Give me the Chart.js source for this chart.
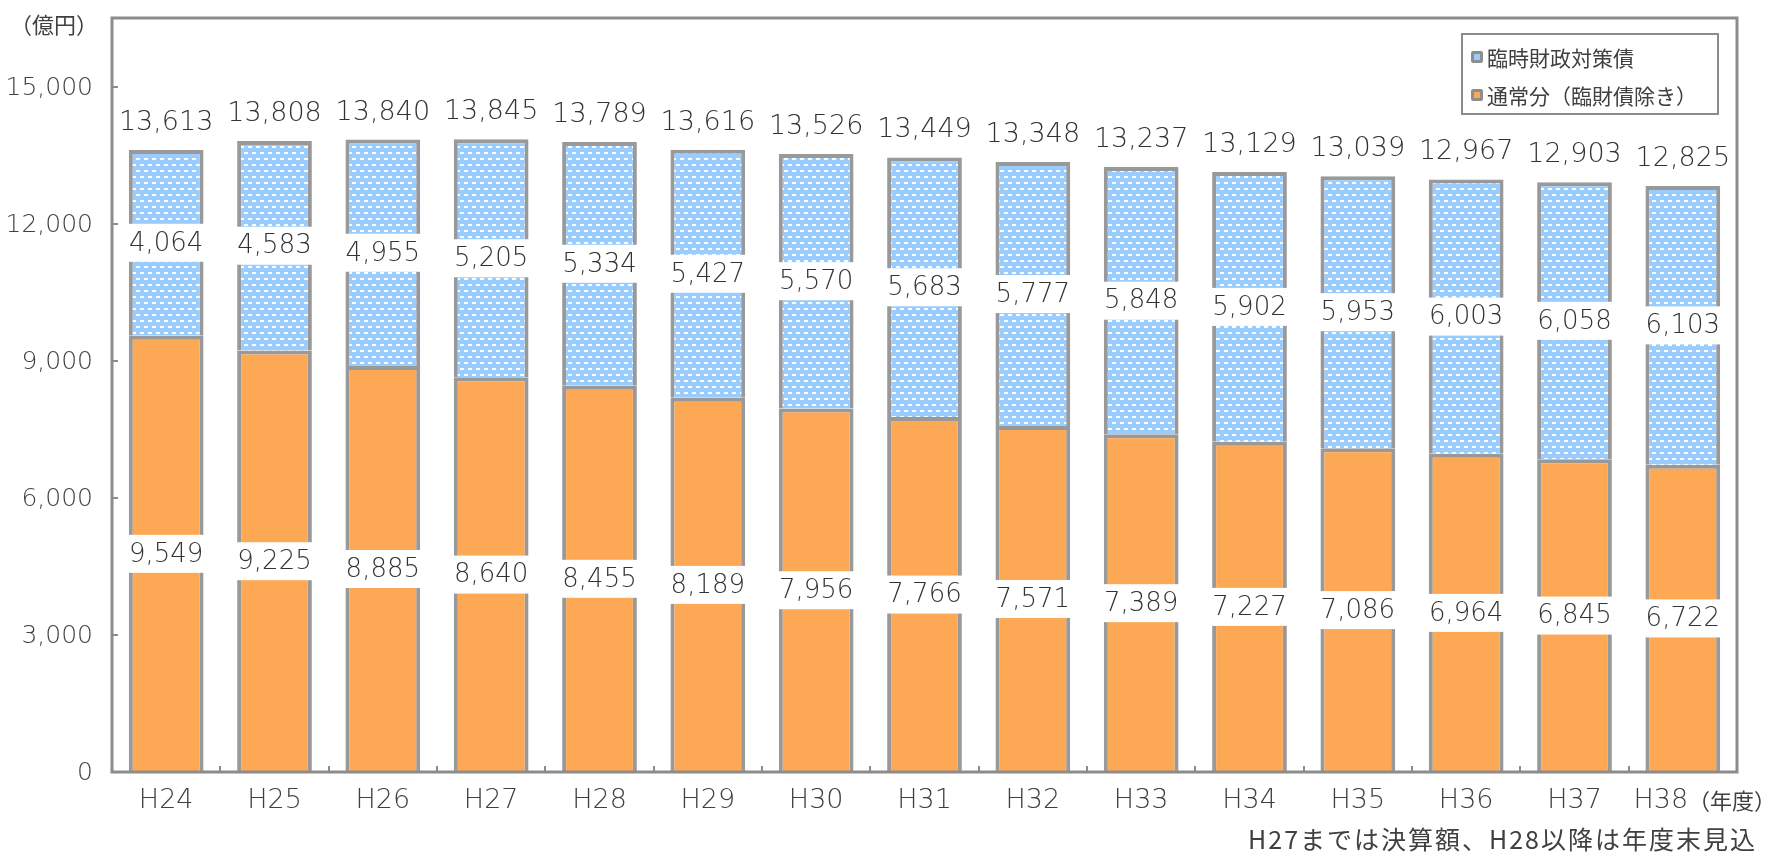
<!DOCTYPE html>
<html>
<head>
<meta charset="utf-8">
<script src="https://cdn.jsdelivr.net/npm/chart.js@4.4.1/dist/chart.umd.min.js"></script>
<style>
  body { margin: 0; background: #fff; }
  canvas { display: block; }
</style>
</head>
<body>
<canvas id="debtChart" width="1789" height="859"></canvas>
<script>
const years = ['H24', 'H25', 'H26', 'H27', 'H28', 'H29', 'H30', 'H31', 'H32', 'H33', 'H34', 'H35', 'H36', 'H37', 'H38'];
const normalPart = [9549, 9225, 8885, 8640, 8455, 8189, 7956, 7766, 7571, 7389, 7227, 7086, 6964, 6845, 6722];
const rinzaiPart = [4064, 4583, 4955, 5205, 5334, 5427, 5570, 5683, 5777, 5848, 5902, 5953, 6003, 6058, 6103];
const totals = [13613, 13808, 13840, 13845, 13789, 13616, 13526, 13449, 13348, 13237, 13129, 13039, 12967, 12903, 12825];
const yTicks = [0, 3000, 6000, 9000, 12000, 15000];

const numFont = '"DejaVu Sans", sans-serif';
const jpFont = '"Noto Sans CJK JP", sans-serif';
const textColor = '#404040';
const axisColor = '#8c8c8c';
const barBorder = '#999999';
const orange = '#fda855';
const blue = '#99ccff';

// dotted light-blue fill like the excel pattern
const makePattern = () => {
    const c = document.createElement('canvas');
    c.width = 8;
    c.height = 12;
    const g = c.getContext('2d');
    g.fillStyle = blue;
    g.fillRect(0, 0, 8, 12);
    g.fillStyle = '#ffffff';
    g.fillRect(0, 2, 4, 2);
    g.fillRect(4, 8, 4, 2);
    return g.createPattern(c, 'repeat');
};

const fmt = v => v.toLocaleString('en-US');

const decorPlugin = {
    id: 'decor',
    beforeDraw(chart) {
        const ctx = chart.ctx;
        ctx.save();
        ctx.fillStyle = '#fff';
        ctx.fillRect(0, 0, chart.width, chart.height);
        ctx.restore();
    },
    afterDatasetsDraw(chart) {
        const ctx = chart.ctx;
        const area = chart.chartArea;
        const yScale = chart.scales.y;
        const xScale = chart.scales.x;
        ctx.save();

        // plot frame
        ctx.strokeStyle = axisColor;
        ctx.lineWidth = 3;
        ctx.strokeRect(area.left, area.top, area.right - area.left, area.bottom - area.top);

        // y ticks + labels
        ctx.lineWidth = 2;
        ctx.font = '200 25px ' + numFont;
        ctx.fillStyle = textColor;
        ctx.textAlign = 'right';
        ctx.textBaseline = 'middle';
        yTicks.forEach(v => {
            const y = Math.round(yScale.getPixelForValue(v));
            ctx.beginPath();
            ctx.moveTo(area.left, y);
            ctx.lineTo(area.left + 6, y);
            ctx.stroke();
            ctx.fillText(fmt(v), 93, y + 1);
        });
        const catW = (area.right - area.left) / years.length;
        for (let i = 1; i < years.length; i++) {
            const x = Math.round(area.left + catW * i);
            ctx.beginPath();
            ctx.moveTo(x, area.bottom);
            ctx.lineTo(x, area.bottom - 6);
            ctx.stroke();
        }

        // category labels (last one sits left to leave room for the unit)
        ctx.font = '200 27px ' + numFont;
        ctx.textAlign = 'center';
        years.forEach((y, i) => {
            let x = xScale.getPixelForValue(i);
            if (i === years.length - 1) x -= 22;
            ctx.fillText(y, x, 801);
        });

        // value labels
        const boxLabel = (text, x, y) => {
            const w = ctx.measureText(text).width + 10;
            ctx.fillStyle = '#fff';
            ctx.fillRect(x - w / 2, y - 19, w, 38);
            ctx.fillStyle = '#333';
            ctx.fillText(text, x, y + 1);
        };
        const metaN = chart.getDatasetMeta(0);
        const metaR = chart.getDatasetMeta(1);
        ctx.font = '200 26px ' + numFont;
        metaN.data.forEach((bar, i) => {
            boxLabel(fmt(normalPart[i]), bar.x, (bar.y + bar.base) / 2);
        });
        metaR.data.forEach((bar, i) => {
            boxLabel(fmt(rinzaiPart[i]), bar.x, (bar.y + bar.base) / 2);
        });
        ctx.font = '200 27px ' + numFont;
        ctx.fillStyle = '#333';
        metaR.data.forEach((bar, i) => {
            ctx.fillText(fmt(totals[i]), bar.x, bar.y - 27);
        });

        // legend
        const lx = 1462, ly = 34, lw = 256, lh = 80;
        ctx.fillStyle = '#fff';
        ctx.fillRect(lx, ly, lw, lh);
        ctx.strokeStyle = axisColor;
        ctx.lineWidth = 2;
        ctx.strokeRect(lx, ly, lw, lh);
        const legendItems = [
            { text: '臨時財政対策債', color: blue, y: 57 },
            { text: '通常分（臨財債除き）', color: orange, y: 95 }
        ];
        ctx.font = '21px ' + jpFont;
        ctx.textAlign = 'left';
        legendItems.forEach(item => {
            ctx.fillStyle = '#8e8e8e';
            ctx.beginPath();
            ctx.roundRect(1471, item.y - 6, 12, 12, 2);
            ctx.fill();
            ctx.fillStyle = item.color;
            ctx.fillRect(1474, item.y - 3, 6, 6);
            ctx.fillStyle = textColor;
            ctx.fillText(item.text, 1487, item.y + 1);
        });

        // unit labels and note
        ctx.font = '22px ' + jpFont;
        ctx.fillStyle = textColor;
        const putLeft = (text, visLeft, y) => {
            const m = ctx.measureText(text);
            ctx.fillText(text, visLeft + m.actualBoundingBoxLeft, y);
        };
        putLeft('（億円）', 25, 25);
        putLeft('（年度）', 1703, 801);
        ctx.font = '25px ' + jpFont;
        ctx.letterSpacing = '2px';
        ctx.textAlign = 'right';
        ctx.fillText('H27までは決算額、H28以降は年度末見込', 1757, 839);
        ctx.restore();
    }
};

const ctx = document.getElementById('debtChart');
new Chart(ctx, {
    type: 'bar',
    data: {
        labels: years,
        datasets: [{
            label: '通常分（臨財債除き）',
            data: normalPart,
            backgroundColor: orange,
            borderColor: barBorder,
            borderWidth: { top: 4, left: 4, right: 4, bottom: 0 },
            borderSkipped: false,
            barPercentage: 0.69,
            categoryPercentage: 1
        }, {
            label: '臨時財政対策債',
            data: rinzaiPart,
            backgroundColor: makePattern(),
            borderColor: barBorder,
            borderWidth: { top: 4, left: 4, right: 4, bottom: 0 },
            borderSkipped: false,
            barPercentage: 0.69,
            categoryPercentage: 1
        }]
    },
    options: {
        responsive: false,
        animation: false,
        devicePixelRatio: 1,
        layout: {
            padding: { top: 18, right: 52, bottom: 47, left: 0 }
        },
        plugins: {
            legend: { display: false },
            tooltip: { enabled: false }
        },
        scales: {
            x: {
                stacked: true,
                grid: { display: false },
                border: { display: false },
                ticks: { display: false },
                afterFit: (scale) => { scale.height = 40; }
            },
            y: {
                stacked: true,
                min: 0,
                max: 16500,
                grid: { display: false },
                border: { display: false },
                ticks: { display: false, stepSize: 3000 },
                afterFit: (scale) => { scale.width = 112; }
            }
        }
    },
    plugins: [decorPlugin]
});
</script>
</body>
</html>
